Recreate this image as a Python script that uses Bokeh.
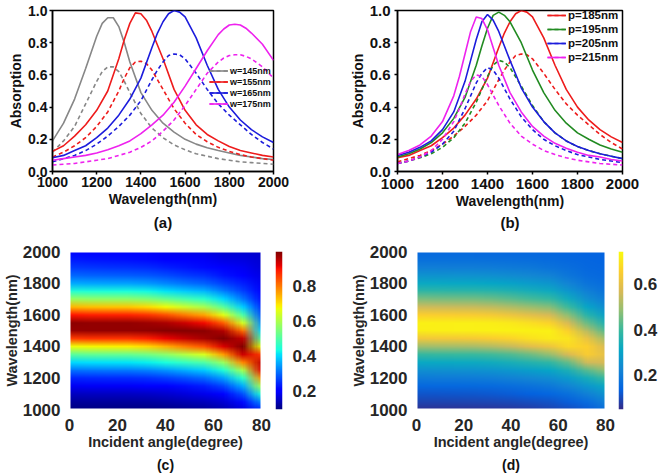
import zlib, struct, base64
import numpy as np
from bokeh.plotting import figure
from bokeh.models import (Range1d, FixedTicker, PrintfTickFormatter, Legend, LegendItem,
                          LinearColorMapper, Title)
from bokeh.layouts import column, row
from bokeh.embed import file_html
from bokeh.resources import INLINE

FONT = "Liberation Sans"

# ---------------- panel (a): width sweep ----------------
wl_a145 = [1000, 1050, 1100, 1150, 1200, 1225, 1250, 1275, 1300, 1325, 1350, 1400, 1450, 1500, 1550, 1600, 1650, 1700, 1750, 1800, 1850, 1900, 1950, 2000]
a145_solid = [0.19, 0.30, 0.45, 0.64, 0.84, 0.92, 0.955, 0.955, 0.90, 0.80, 0.68, 0.49, 0.38, 0.30, 0.245, 0.20, 0.17, 0.148, 0.13, 0.115, 0.10, 0.09, 0.08, 0.075]
a145_dash = [0.12, 0.19, 0.28, 0.42, 0.56, 0.62, 0.65, 0.65, 0.62, 0.56, 0.49, 0.36, 0.27, 0.21, 0.165, 0.135, 0.11, 0.095, 0.08, 0.07, 0.06, 0.055, 0.05, 0.045]

wl_a155 = [1000, 1050, 1100, 1150, 1200, 1250, 1300, 1325, 1350, 1375, 1400, 1425, 1450, 1500, 1550, 1600, 1650, 1700, 1750, 1800, 1850, 1900, 1950, 2000]
a155_solid = [0.125, 0.16, 0.22, 0.29, 0.38, 0.50, 0.70, 0.82, 0.92, 0.985, 0.98, 0.94, 0.87, 0.70, 0.51, 0.38, 0.29, 0.23, 0.19, 0.155, 0.13, 0.115, 0.10, 0.09]
a155_dash = [0.09, 0.12, 0.16, 0.21, 0.28, 0.37, 0.50, 0.58, 0.645, 0.68, 0.685, 0.67, 0.63, 0.51, 0.39, 0.30, 0.23, 0.185, 0.15, 0.125, 0.105, 0.09, 0.08, 0.07]

wl_a165 = [1000, 1050, 1100, 1150, 1200, 1250, 1300, 1350, 1400, 1450, 1475, 1500, 1525, 1550, 1575, 1600, 1650, 1700, 1750, 1800, 1850, 1900, 1950, 2000]
a165_solid = [0.085, 0.10, 0.13, 0.16, 0.21, 0.27, 0.35, 0.45, 0.58, 0.77, 0.86, 0.93, 0.98, 1.0, 0.99, 0.96, 0.83, 0.66, 0.51, 0.40, 0.32, 0.26, 0.215, 0.18]
a165_dash = [0.06, 0.08, 0.10, 0.13, 0.17, 0.22, 0.28, 0.35, 0.44, 0.57, 0.63, 0.68, 0.72, 0.73, 0.725, 0.70, 0.61, 0.51, 0.42, 0.35, 0.29, 0.23, 0.18, 0.14]

wl_a175 = [1000, 1050, 1100, 1150, 1200, 1250, 1300, 1350, 1400, 1450, 1500, 1550, 1600, 1650, 1700, 1750, 1775, 1800, 1825, 1850, 1875, 1900, 1950, 2000]
a175_solid = [0.07, 0.08, 0.09, 0.10, 0.115, 0.135, 0.16, 0.19, 0.235, 0.29, 0.35, 0.43, 0.53, 0.64, 0.75, 0.85, 0.885, 0.91, 0.915, 0.91, 0.89, 0.86, 0.79, 0.69]
a175_dash = [0.04, 0.045, 0.05, 0.06, 0.07, 0.08, 0.10, 0.12, 0.15, 0.19, 0.25, 0.32, 0.41, 0.51, 0.61, 0.68, 0.705, 0.72, 0.725, 0.725, 0.715, 0.70, 0.65, 0.58]

# ---------------- panel (b): period sweep ----------------
wl_b185 = [1000, 1050, 1100, 1150, 1200, 1250, 1300, 1350, 1400, 1450, 1475, 1500, 1525, 1550, 1575, 1600, 1650, 1700, 1750, 1800, 1850, 1900, 1950, 2000]
b185_solid = [0.085, 0.10, 0.13, 0.16, 0.21, 0.27, 0.35, 0.45, 0.58, 0.77, 0.86, 0.93, 0.98, 1.0, 0.99, 0.96, 0.83, 0.66, 0.51, 0.40, 0.32, 0.26, 0.215, 0.18]
b185_dash = [0.06, 0.08, 0.10, 0.13, 0.17, 0.22, 0.28, 0.35, 0.44, 0.57, 0.63, 0.68, 0.72, 0.73, 0.725, 0.70, 0.61, 0.51, 0.42, 0.35, 0.29, 0.23, 0.18, 0.14]

wl_b195 = [1000, 1050, 1100, 1150, 1200, 1250, 1300, 1350, 1375, 1400, 1425, 1450, 1475, 1500, 1550, 1600, 1650, 1700, 1750, 1800, 1850, 1900, 1950, 2000]
b195_solid = [0.09, 0.11, 0.14, 0.18, 0.24, 0.33, 0.46, 0.66, 0.78, 0.89, 0.97, 0.99, 0.97, 0.93, 0.80, 0.63, 0.49, 0.38, 0.30, 0.24, 0.20, 0.165, 0.14, 0.12]
b195_dash = [0.05, 0.065, 0.085, 0.11, 0.15, 0.21, 0.30, 0.43, 0.51, 0.59, 0.66, 0.69, 0.68, 0.645, 0.53, 0.41, 0.31, 0.24, 0.19, 0.155, 0.13, 0.11, 0.095, 0.08]

wl_b205 = [1000, 1050, 1100, 1150, 1200, 1250, 1300, 1325, 1350, 1375, 1400, 1425, 1450, 1500, 1550, 1600, 1650, 1700, 1750, 1800, 1850, 1900, 1950, 2000]
b205_solid = [0.10, 0.12, 0.15, 0.19, 0.26, 0.37, 0.56, 0.69, 0.82, 0.93, 0.975, 0.94, 0.87, 0.69, 0.52, 0.40, 0.31, 0.24, 0.19, 0.155, 0.13, 0.11, 0.095, 0.08]
b205_dash = [0.05, 0.065, 0.09, 0.12, 0.17, 0.25, 0.39, 0.47, 0.55, 0.61, 0.645, 0.63, 0.58, 0.45, 0.34, 0.26, 0.20, 0.16, 0.13, 0.105, 0.09, 0.075, 0.065, 0.055]

wl_b215 = [1000, 1050, 1100, 1150, 1200, 1250, 1275, 1300, 1325, 1350, 1375, 1400, 1450, 1500, 1550, 1600, 1650, 1700, 1750, 1800, 1850, 1900, 1950, 2000]
b215_solid = [0.105, 0.13, 0.165, 0.22, 0.31, 0.47, 0.59, 0.73, 0.87, 0.96, 0.95, 0.88, 0.66, 0.49, 0.37, 0.28, 0.22, 0.175, 0.145, 0.12, 0.10, 0.09, 0.075, 0.065]
b215_dash = [0.05, 0.065, 0.09, 0.13, 0.20, 0.31, 0.39, 0.48, 0.56, 0.60, 0.59, 0.54, 0.41, 0.30, 0.22, 0.17, 0.13, 0.105, 0.085, 0.07, 0.06, 0.05, 0.045, 0.04]

x_ticks = [1000, 1200, 1400, 1600, 1800, 2000]
y_ticks = [0.0, 0.2, 0.4, 0.6, 0.8, 1.0]

# ---------------- panels (c), (d): angle maps ----------------
angles = [0, 8, 16, 24, 32, 40, 48, 56, 64, 72, 80]
wl_grid = [1000, 1050, 1100, 1150, 1200, 1250, 1300, 1350, 1400, 1450, 1500,
           1550, 1600, 1650, 1700, 1750, 1800, 1850, 1900, 1950, 2000]
# one list per incidence angle, values along wl_grid
map_c = [
    [0.092, 0.115, 0.145, 0.185, 0.24, 0.31, 0.40, 0.51, 0.67, 0.86, 0.98, 0.99, 0.90, 0.745, 0.58, 0.45, 0.36, 0.30, 0.26, 0.23, 0.21],
    [0.093, 0.117, 0.147, 0.188, 0.244, 0.315, 0.405, 0.52, 0.68, 0.87, 0.985, 0.985, 0.89, 0.735, 0.57, 0.445, 0.355, 0.295, 0.255, 0.225, 0.205],
    [0.094, 0.117, 0.147, 0.189, 0.245, 0.317, 0.408, 0.522, 0.685, 0.87, 0.985, 0.985, 0.888, 0.73, 0.568, 0.442, 0.353, 0.292, 0.252, 0.222, 0.202],
    [0.094, 0.118, 0.148, 0.19, 0.246, 0.318, 0.41, 0.524, 0.69, 0.87, 0.984, 0.985, 0.886, 0.728, 0.566, 0.44, 0.352, 0.29, 0.25, 0.22, 0.20],
    [0.095, 0.12, 0.151, 0.195, 0.252, 0.326, 0.42, 0.538, 0.71, 0.888, 0.988, 0.978, 0.872, 0.71, 0.552, 0.43, 0.344, 0.285, 0.245, 0.215, 0.195],
    [0.098, 0.127, 0.157, 0.205, 0.264, 0.342, 0.44, 0.566, 0.75, 0.916, 0.996, 0.966, 0.844, 0.677, 0.524, 0.41, 0.328, 0.275, 0.235, 0.205, 0.185],
    [0.105, 0.135, 0.168, 0.22, 0.282, 0.366, 0.47, 0.61, 0.80, 0.946, 0.997, 0.94, 0.80, 0.635, 0.49, 0.387, 0.31, 0.26, 0.225, 0.197, 0.178],
    [0.112, 0.142, 0.18, 0.234, 0.302, 0.39, 0.50, 0.65, 0.84, 0.97, 0.992, 0.91, 0.76, 0.595, 0.46, 0.37, 0.295, 0.25, 0.215, 0.19, 0.175],
    [0.13, 0.16, 0.21, 0.27, 0.35, 0.45, 0.58, 0.77, 0.93, 1.0, 0.96, 0.83, 0.66, 0.51, 0.40, 0.32, 0.265, 0.225, 0.195, 0.175, 0.16],
    [0.165, 0.216, 0.278, 0.36, 0.462, 0.598, 0.788, 0.94, 0.998, 0.948, 0.813, 0.644, 0.498, 0.392, 0.314, 0.265, 0.235, 0.205, 0.185, 0.17, 0.16],
    [0.24, 0.33, 0.45, 0.60, 0.78, 0.92, 0.95, 0.86, 0.66, 0.50, 0.40, 0.33, 0.28, 0.245, 0.22, 0.20, 0.185, 0.175, 0.165, 0.16, 0.155],
]
map_d = [
    [0.06, 0.09, 0.115, 0.15, 0.195, 0.25, 0.315, 0.39, 0.50, 0.63, 0.72, 0.725, 0.66, 0.56, 0.465, 0.385, 0.32, 0.26, 0.205, 0.17, 0.15],
    [0.06, 0.09, 0.116, 0.152, 0.197, 0.253, 0.318, 0.395, 0.505, 0.635, 0.722, 0.724, 0.656, 0.556, 0.461, 0.382, 0.318, 0.258, 0.205, 0.17, 0.15],
    [0.061, 0.091, 0.117, 0.153, 0.198, 0.255, 0.32, 0.397, 0.508, 0.638, 0.723, 0.723, 0.653, 0.553, 0.458, 0.38, 0.316, 0.256, 0.204, 0.17, 0.15],
    [0.062, 0.092, 0.118, 0.154, 0.20, 0.256, 0.322, 0.398, 0.512, 0.642, 0.724, 0.723, 0.65, 0.55, 0.456, 0.378, 0.314, 0.255, 0.203, 0.17, 0.15],
    [0.064, 0.094, 0.121, 0.158, 0.205, 0.262, 0.33, 0.406, 0.526, 0.654, 0.727, 0.72, 0.64, 0.54, 0.447, 0.371, 0.308, 0.25, 0.20, 0.168, 0.15],
    [0.068, 0.098, 0.127, 0.166, 0.215, 0.274, 0.343, 0.422, 0.55, 0.67, 0.728, 0.71, 0.62, 0.52, 0.43, 0.36, 0.298, 0.24, 0.195, 0.165, 0.148],
    [0.075, 0.105, 0.135, 0.176, 0.228, 0.29, 0.362, 0.45, 0.59, 0.695, 0.728, 0.69, 0.595, 0.495, 0.41, 0.342, 0.282, 0.228, 0.19, 0.162, 0.147],
    [0.088, 0.112, 0.146, 0.19, 0.244, 0.308, 0.382, 0.488, 0.62, 0.712, 0.725, 0.668, 0.57, 0.474, 0.392, 0.326, 0.268, 0.215, 0.178, 0.158, 0.147],
    [0.10, 0.13, 0.17, 0.22, 0.28, 0.35, 0.44, 0.57, 0.68, 0.70, 0.66, 0.57, 0.48, 0.40, 0.33, 0.27, 0.22, 0.185, 0.165, 0.15, 0.145],
    [0.125, 0.16, 0.21, 0.27, 0.34, 0.43, 0.56, 0.65, 0.66, 0.61, 0.53, 0.445, 0.37, 0.305, 0.25, 0.21, 0.18, 0.16, 0.15, 0.145, 0.14],
    [0.17, 0.21, 0.26, 0.32, 0.40, 0.49, 0.57, 0.60, 0.57, 0.50, 0.42, 0.35, 0.29, 0.24, 0.20, 0.175, 0.16, 0.15, 0.145, 0.14, 0.14],
]
angle_ticks = [0, 20, 40, 60, 80]
wl_ticks = [1000, 1200, 1400, 1600, 1800, 2000]
cbar_c_ticks = [0.2, 0.4, 0.6, 0.8]
cbar_d_ticks = [0.2, 0.4, 0.6]
c_low, c_high = 0.095, 1.0
d_low, d_high = 0.05, 0.745

# ---------------- colormaps ----------------
def jet_rgb(t):
    t = np.clip(t, 0, 1)
    r = np.interp(t, [0, 0.35, 0.66, 0.89, 1], [0, 0, 1, 1, 0.5])
    g = np.interp(t, [0, 0.125, 0.375, 0.64, 0.91, 1], [0, 0, 1, 1, 0, 0])
    b = np.interp(t, [0, 0.11, 0.34, 0.65, 1], [0.5, 1, 1, 0, 0])
    return np.stack([r, g, b], -1) * 255


PARULA_ANCHORS = ["#352a87", "#0363e1", "#1485d4", "#06a7c6", "#38b99e",
                  "#92bf73", "#d9ba56", "#fcce2e", "#f9fb0e"]


def parula_rgb(t):
    t = np.clip(t, 0, 1)
    rgb = np.array([[int(h[i:i + 2], 16) for i in (1, 3, 5)] for h in PARULA_ANCHORS], float)
    pos = np.linspace(0, 1, len(PARULA_ANCHORS))
    return np.stack([np.interp(t, pos, rgb[:, k]) for k in range(3)], -1)


def to_palette(fn, n=256):
    return ["#%02x%02x%02x" % tuple(int(round(c)) for c in px) for px in fn(np.linspace(0, 1, n))]


JET = to_palette(jet_rgb)
PARULA = to_palette(parula_rgb)


def png_url(rgb):
    """rgb: array (h, w, 3), first row = top of picture."""
    h, w, _ = rgb.shape
    px = np.clip(np.round(rgb), 0, 255).astype(np.uint8)
    raw = b"".join(b"\x00" + px[i].tobytes() for i in range(h))

    def chunk(t, d):
        return struct.pack(">I", len(d)) + t + d + struct.pack(">I", zlib.crc32(t + d) & 0xffffffff)
    png = (b"\x89PNG\r\n\x1a\n" + chunk(b"IHDR", struct.pack(">IIBBBBB", w, h, 8, 2, 0, 0, 0))
           + chunk(b"IDAT", zlib.compress(raw)) + chunk(b"IEND", b""))
    return "data:image/png;base64," + base64.b64encode(png).decode()


GRAY, RED, BLUE, MAG, GREEN = "#878787", "#ee1c1c", "#1c1cdc", "#ee22ee", "#228b22"
TXT = "#111111"


def make_fig(w, h, xr, yr, left, right, top, bottom, **kw):
    p = figure(width=w, height=h, x_range=Range1d(*xr), y_range=Range1d(*yr),
               output_backend="svg", toolbar_location=None,
               min_border_left=left, min_border_right=right,
               min_border_top=top, min_border_bottom=bottom, **kw)
    p.grid.visible = False
    p.background_fill_color = "white"
    p.border_fill_color = "white"
    return p


def style_axes(axes, tick_px, label_px, color, lines=True, lstand=2, astand=2):
    for ax in axes:
        ax.major_label_text_font = FONT
        ax.major_label_text_font_style = "bold"
        ax.major_label_text_font_size = tick_px
        ax.major_label_text_color = color
        ax.axis_label_text_font = FONT
        ax.axis_label_text_font_style = "bold"
        ax.axis_label_text_font_size = label_px
        ax.axis_label_text_color = color
        ax.minor_tick_line_color = None
        ax.major_label_standoff = lstand
        ax.axis_label_standoff = astand
        if lines:
            ax.axis_line_color = "black"
            ax.axis_line_width = 1.5
            ax.major_tick_line_color = "black"
            ax.major_tick_line_width = 1.5
            ax.major_tick_out = 3
            ax.major_tick_in = 0
        else:
            ax.axis_line_color = None
            ax.major_tick_line_color = None


def line_panel(pairs, names, left, right, top, bottom, letter, leg_loc, leg_h, leg_font,
               tick_px, lstand, title_standoff):
    p = make_fig(330, 237, (1000, 2000), (0, 1.0), left, right, top, bottom)
    p.outline_line_color = "black"
    p.outline_line_width = 1.5
    p.outline_line_alpha = 1.0
    items = []
    for (wl, ys, yd, col), name in zip(pairs, names):
        r1 = p.line(wl, ys, line_color=col, line_width=1.6)
        r2 = p.line(wl, yd, line_color=col, line_width=1.6, line_dash="4 3")
        items.append(LegendItem(label=name, renderers=[r1, r2]))
    p.xaxis.ticker = FixedTicker(ticks=x_ticks)
    p.yaxis.ticker = FixedTicker(ticks=y_ticks)
    p.yaxis.formatter = PrintfTickFormatter(format="%.1f")
    p.xaxis.axis_label = "Wavelength(nm)"
    p.yaxis.axis_label = "Absorption"
    style_axes(list(p.xaxis) + list(p.yaxis), tick_px, "14px", TXT, lines=True, lstand=lstand, astand=1)
    leg = Legend(items=items, location=leg_loc, background_fill_alpha=0,
                 border_line_color=None, padding=0, margin=0, spacing=0,
                 label_height=leg_h, glyph_height=leg_h, glyph_width=19,
                 label_standoff=2, label_text_font=FONT, label_text_font_style="bold",
                 label_text_font_size=leg_font, label_text_color=TXT)
    p.add_layout(leg)
    p.add_layout(Title(text=letter, align="center", text_font=FONT, text_font_style="bold",
                       text_font_size="15px", text_color=TXT, standoff=title_standoff), "below")
    return p


def heat_panel(cols, rgb_fn, low, high, width, left, right, letter):
    p = make_fig(width, 237, (0, 80), (1000, 2000), left, right, 14, 65)
    p.outline_line_color = None
    grid = np.array(cols, dtype=float).T          # rows: wavelength (low->high), cols: angle
    rgb = rgb_fn((grid - low) / (high - low))[::-1]  # top row = longest wavelength
    da = angles[1] - angles[0]
    dl = wl_grid[1] - wl_grid[0]
    # one image pixel per data cell, centred on the grid node; the browser shades between nodes
    p.image_url(url=[png_url(rgb)], x=angles[0] - da / 2, y=wl_grid[0] - dl / 2,
                w=da * len(angles), h=dl * len(wl_grid), anchor="bottom_left")
    p.xaxis.ticker = FixedTicker(ticks=angle_ticks)
    p.yaxis.ticker = FixedTicker(ticks=wl_ticks)
    p.xaxis.axis_label = "Incident angle(degree)"
    p.yaxis.axis_label = "Wavelength(nm)"
    style_axes(list(p.xaxis) + list(p.yaxis), "17px", "14.5px", "#262626", lines=False, lstand=3, astand=0)
    p.add_layout(Title(text=letter, align="center", text_font=FONT, text_font_style="bold",
                       text_font_size="14px", text_color=TXT, standoff=4), "below")
    return p


def cbar_fig(palette, low, high, ticks, width, bar_w):
    p = make_fig(width, 237, (0, 1), (low, high), 0, width - bar_w, 14, 65, y_axis_location="right")
    p.outline_line_color = None
    mapper = LinearColorMapper(palette=palette, low=low, high=high)
    levels = np.linspace(low, high, len(palette)).reshape(-1, 1)
    p.image(image=[levels], x=0, y=low, dw=1, dh=high - low, color_mapper=mapper)
    p.xaxis.visible = False
    p.yaxis.ticker = FixedTicker(ticks=ticks)
    p.yaxis.formatter = PrintfTickFormatter(format="%.1f")
    style_axes(list(p.yaxis), "17px", "14px", "#262626", lines=False, lstand=4, astand=0)
    return p


pa = line_panel([(wl_a145, a145_solid, a145_dash, GRAY),
                 (wl_a155, a155_solid, a155_dash, RED),
                 (wl_a165, a165_solid, a165_dash, BLUE),
                 (wl_a175, a175_solid, a175_dash, MAG)],
                ["w=145nm", "w=155nm", "w=165nm", "w=175nm"],
                52, 57, 7, 66, "(a)", (157, 62), 11, "9px", "14px", 2, 4)
pb = line_panel([(wl_b185, b185_solid, b185_dash, RED),
                 (wl_b195, b195_solid, b195_dash, GREEN),
                 (wl_b205, b205_solid, b205_dash, BLUE),
                 (wl_b215, b215_solid, b215_dash, MAG)],
                ["p=185nm", "p=195nm", "p=205nm", "p=215nm"],
                67, 38, 10, 61, "(b)", (150, 107), 14, "11.5px", "15px", 4, 0)
pc = heat_panel(map_c, jet_rgb, c_low, c_high, 275, 67, 14, "(c)")
cbc = cbar_fig(JET, c_low, c_high, cbar_c_ticks, 55, 7)
pd = heat_panel(map_d, parula_rgb, d_low, d_high, 288, 86, 13, "(d)")
cbd = cbar_fig(PARULA, d_low, d_high, cbar_d_ticks, 42, 7)

layout = column(row(pa, pb), row(pc, cbc, pd, cbd))
open("out.html", "w").write(file_html(layout, INLINE))
